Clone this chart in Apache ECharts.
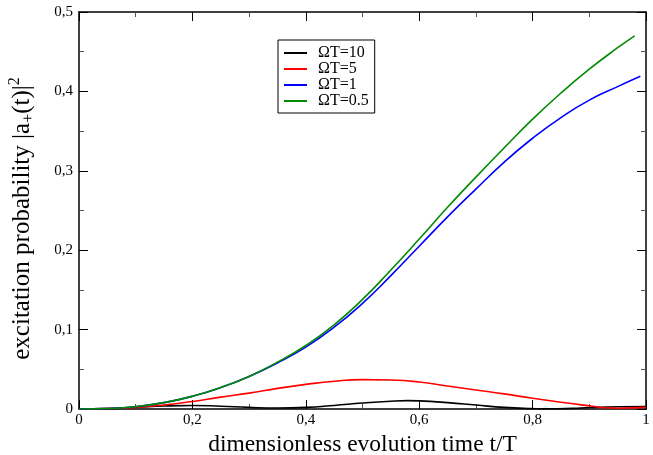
<!DOCTYPE html>
<html>
<head>
<meta charset="utf-8">
<script src="https://cdn.jsdelivr.net/npm/echarts@6/dist/echarts.min.js"></script>
<style>
html,body{margin:0;padding:0;background:#fff;}
#chart{width:653px;height:455px;}
</style>
</head>
<body>
<div id="chart"></div>
<script>
// ---- data ----
const seriesNames = ['ΩT=10', 'ΩT=5', 'ΩT=1', 'ΩT=0.5'];
const seriesColors = ['#000000', '#ff0000', '#0000ff', '#008b00'];

const tBlack = [0,0.05,0.1,0.15,0.2,0.25,0.3,0.35,0.4,0.45,0.5,0.55,0.58,0.6,0.65,0.7,0.75,0.8,0.83,0.87,0.9,0.95,1.0];
const yBlack = [0,0.0005,0.002,0.0038,0.0045,0.0035,0.002,0.0012,0.002,0.0045,0.0075,0.0098,0.0105,0.0102,0.008,0.005,0.002,0.0005,0.0001,0.0008,0.0018,0.0028,0.003];

const tRed = [0,0.05,0.1,0.15,0.2,0.25,0.3,0.35,0.4,0.45,0.5,0.55,0.6,0.65,0.7,0.75,0.8,0.85,0.9,0.93,0.95,1.0];
const yRed = [0,0.0005,0.002,0.005,0.0095,0.015,0.020,0.026,0.031,0.035,0.037,0.0365,0.034,0.029,0.024,0.019,0.0135,0.0085,0.004,0.0015,0.001,0.002];

const tBlue = [0,0.05,0.1,0.15,0.2,0.25,0.3,0.35,0.4,0.45,0.5,0.55,0.6,0.65,0.7,0.75,0.8,0.85,0.9,0.95,0.99];
const yBlue = [0,0.0005,0.003,0.008,0.016,0.027,0.041,0.058,0.078,0.103,0.133,0.168,0.205,0.242,0.277,0.311,0.341,0.367,0.389,0.406,0.419];

const tGreen = [0,0.05,0.1,0.15,0.2,0.25,0.3,0.35,0.4,0.45,0.5,0.55,0.6,0.65,0.7,0.75,0.8,0.85,0.9,0.95,0.98];
const yGreen = [0,0.0005,0.003,0.008,0.016,0.027,0.041,0.059,0.080,0.106,0.138,0.175,0.214,0.254,0.292,0.329,0.365,0.398,0.428,0.455,0.470];

const xTicks = [0, 0.2, 0.4, 0.6, 0.8, 1];
const yTicks = [0, 0.1, 0.2, 0.3, 0.4, 0.5];

// ---- build chart ----
const zip = (t, y) => t.map((v, i) => [v, y[i]]);
const allT = [tBlack, tRed, tBlue, tGreen];
const allY = [yBlack, yRed, yBlue, yGreen];

const FONT = 'Liberation Serif';
const fmt = v => (v === 0 ? '0' : v === 1 ? '1' : String(Math.round(v * 10) / 10).replace('.', ','));

function axisCommon(showLabels, margin) {
  return {
    axisLine: { show: true, onZero: false, lineStyle: { color: '#000', width: 1.5 } },
    axisTick: { show: true, inside: true, length: 9, lineStyle: { color: '#000', width: 1 } },
    minorTick: { show: true, splitNumber: 2, length: 5, lineStyle: { color: '#555', width: 1 } },
    splitLine: { show: false },
    axisLabel: { show: showLabels, margin: margin, fontFamily: FONT, fontSize: 15, color: '#000', formatter: fmt },
  };
}

const chart = echarts.init(document.getElementById('chart'), null, { renderer: 'canvas' });
chart.setOption({
  animation: false,
  backgroundColor: '#fff',
  grid: { left: 79, right: 7, top: 12, bottom: 46, containLabel: false, outerBoundsMode: 'none' },
  legend: {
    orient: 'vertical',
    left: 278, top: 40,
    data: seriesNames,
    icon: 'rect',
    itemWidth: 23, itemHeight: 2,
    itemGap: 0,
    padding: [5, 6, 4, 6],
    borderColor: '#000', borderWidth: 1,
    textStyle: { fontFamily: FONT, fontSize: 16, color: '#000', lineHeight: 16, padding: [0, 0, 0, 6] },
  },
  xAxis: [
    Object.assign(axisCommon(true, 4), {
      type: 'value', min: xTicks[0], max: xTicks[xTicks.length - 1], interval: 0.2, position: 'bottom',
      name: 'dimensionless evolution time t/T', nameLocation: 'middle', nameGap: 16,
      nameTextStyle: { fontFamily: FONT, fontSize: 23.5, color: '#000' },
    }),
    Object.assign(axisCommon(false, 4), {
      type: 'value', min: xTicks[0], max: xTicks[xTicks.length - 1], interval: 0.2, position: 'top',
    }),
  ],
  yAxis: [
    Object.assign(axisCommon(true, 6), {
      type: 'value', min: yTicks[0], max: yTicks[yTicks.length - 1], interval: 0.1, position: 'left',
      name: 'excitation probability |a{sub|+}(t)|{sup|2}', nameLocation: 'middle', nameGap: 42, nameRotate: 90,
      nameTextStyle: {
        fontFamily: FONT, fontSize: 25, color: '#000', lineHeight: 30, padding: [0, 16, 0, 0],
        rich: {
          sub: { fontFamily: FONT, fontSize: 16, color: '#000', verticalAlign: 'bottom', lineHeight: 30 },
          sup: { fontFamily: FONT, fontSize: 16, color: '#000', verticalAlign: 'top', lineHeight: 30 },
        },
      },
    }),
    Object.assign(axisCommon(false, 6), {
      type: 'value', min: yTicks[0], max: yTicks[yTicks.length - 1], interval: 0.1, position: 'right',
    }),
  ],
  series: seriesNames.map((name, i) => ({
    name, type: 'line', xAxisIndex: 0, yAxisIndex: 0,
    data: zip(allT[i], allY[i]),
    showSymbol: false, symbol: 'none', smooth: 0.5,
    lineStyle: { color: seriesColors[i], width: 1.6 },
    itemStyle: { color: seriesColors[i] },
  })),
});
</script>
</body>
</html>
